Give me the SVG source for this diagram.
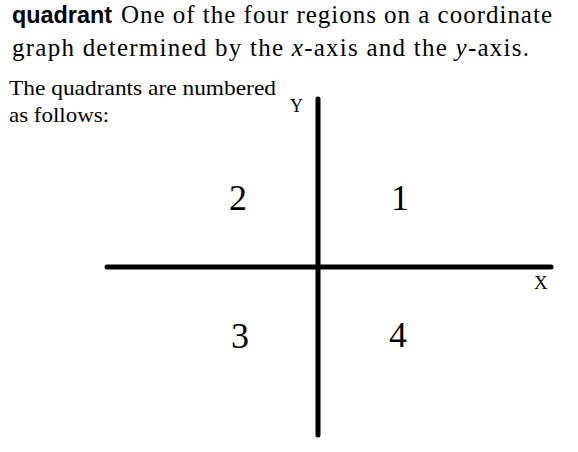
<svg xmlns="http://www.w3.org/2000/svg" width="578" height="452" viewBox="0 0 578 452">
<style>
.serif{font-family:"Liberation Serif","Times New Roman",serif;fill:#000}
.axis{stroke:#000;stroke-width:5;stroke-linecap:round}
</style>
<rect width="578" height="452" fill="#fff"/>
<g id="definition">
<text x="12" y="23" font-family="Liberation Sans, Arial, sans-serif" font-weight="bold" font-size="23" textLength="100" lengthAdjust="spacingAndGlyphs">quadrant</text>
<text x="121" y="23" font-family="Liberation Serif, Times New Roman, serif" font-size="25" textLength="431" lengthAdjust="spacing">One of the four regions on a coordinate</text>
<text x="12" y="56" font-family="Liberation Serif, Times New Roman, serif" font-size="25" textLength="517" lengthAdjust="spacing">graph determined by the <tspan font-style="italic">x</tspan>-axis and the <tspan font-style="italic">y</tspan>-axis.</text>
</g>
<g id="intro">
<text x="9" y="95" class="serif" font-size="21" textLength="267" lengthAdjust="spacingAndGlyphs">The quadrants are numbered</text>
<text x="9" y="122" class="serif" font-size="21" textLength="100" lengthAdjust="spacingAndGlyphs">as follows:</text>
</g>
<g id="connectors">
<line class="axis" x1="318" y1="99" x2="318" y2="435"/>
<line class="axis" x1="107" y1="267" x2="551" y2="267"/>
</g>
<g id="y-label"><text x="290" y="112" class="serif" font-size="18">Y</text></g>
<g id="x-label"><text x="534" y="289" class="serif" font-size="19">X</text></g>
<g id="q1"><text x="400" y="210" class="serif" font-size="36" text-anchor="middle">1</text></g>
<g id="q2"><text x="238" y="210" class="serif" font-size="36" text-anchor="middle">2</text></g>
<g id="q3"><text x="240" y="348" class="serif" font-size="36" text-anchor="middle">3</text></g>
<g id="q4"><text x="398" y="347" class="serif" font-size="36" text-anchor="middle">4</text></g>
</svg>
